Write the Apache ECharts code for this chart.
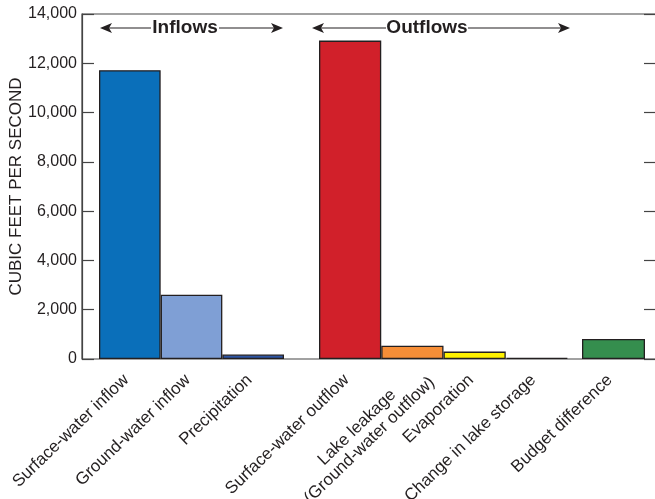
<!DOCTYPE html>
<html>
<head>
<meta charset="utf-8">
<script src="https://cdn.jsdelivr.net/npm/echarts@6/dist/echarts.min.js"></script>
<style>
  html, body { margin: 0; padding: 0; background: #fff; }
  #main { width: 655px; height: 499px; }
</style>
</head>
<body>
<div id="main"></div>
<script>
// data (cubic feet per second)
var inflowNames = ['Surface-water inflow', 'Ground-water inflow', 'Precipitation'];
var inflowValues = [11720, 2610, 180];
var outflowNames = ['Surface-water outflow', 'Lake leakage\n(Ground-water outflow)', 'Evaporation', 'Change in lake storage'];
var outflowValues = [12920, 540, 300, 50];
var budgetNames = ['Budget difference'];
var budgetValues = [810];
var yTicks = [0, 2000, 4000, 6000, 8000, 10000, 12000, 14000];

var inflowColors = ['#0a6fba', '#7f9fd5', '#2d55a4'];
var outflowColors = ['#d1202a', '#f68e37', '#fff200', '#231f20'];
var budgetColors = ['#358e4e'];

var FONT = '"Liberation Sans Narrow", "Liberation Sans", sans-serif';
var TOP = 14, BOTTOM = 140;

function colored(values, colors) {
  return values.map(function (v, i) {
    return { value: v, itemStyle: { color: colors[i] } };
  });
}

function subX(gridIndex, names) {
  return {
    type: 'category', gridIndex: gridIndex,
    data: names.map(function (n) {
      // the two-line label sits a bit lower and further right in the original
      if (n.indexOf('\n') >= 0) return { value: n, textStyle: { padding: [18, -10, 0, 0] } };
      return n;
    }),
    axisLine: { show: false }, axisTick: { show: false },
    axisLabel: {
      rotate: 44, margin: 15, interval: 0, padding: [0, 5, 0, 0],
      fontFamily: FONT, fontSize: 17, color: '#231f20', lineHeight: 18, align: 'right',
      // lines of a two-line label are centred on each other
      formatter: function (v) {
        return v.split('\n').map(function (s) { return '{c|' + s + '}'; }).join('\n');
      },
      rich: { c: { align: 'center', fontFamily: FONT, fontSize: 17, color: '#231f20', lineHeight: 18 } }
    }
  };
}

function subY(gridIndex) {
  return {
    type: 'value', gridIndex: gridIndex, show: false,
    min: yTicks[0], max: yTicks[yTicks.length - 1], interval: 2000
  };
}

function barSeries(idx, values, colors) {
  return {
    type: 'bar', xAxisIndex: idx, yAxisIndex: idx + 1,
    barWidth: '100%', barGap: 0,
    data: colored(values, colors),
    itemStyle: { borderColor: '#231f20', borderWidth: 1.3 },
    silent: true
  };
}

// arrows above the groups
function arrow(x1, x2, y, label, cx, halfGap) {
  var head = 9;
  return [
    { type: 'line', shape: { x1: x1 + 4, y1: y, x2: cx - halfGap, y2: y }, style: { stroke: '#231f20', lineWidth: 1.2 } },
    { type: 'line', shape: { x1: cx + halfGap, y1: y, x2: x2 - 4, y2: y }, style: { stroke: '#231f20', lineWidth: 1.2 } },
    { type: 'polygon', shape: { points: [[x1, y], [x1 + head + 3, y - 5], [x1 + head, y], [x1 + head + 3, y + 5]] }, style: { fill: '#231f20' } },
    { type: 'polygon', shape: { points: [[x2, y], [x2 - head - 3, y - 5], [x2 - head, y], [x2 - head - 3, y + 5]] }, style: { fill: '#231f20' } },
    { type: 'text', x: cx, y: y, style: { text: label, fill: '#231f20', font: 'bold 19px "Liberation Sans", Arial, sans-serif', align: 'center', verticalAlign: 'middle' } }
  ];
}

var chart = echarts.init(document.getElementById('main'));

function frame(left, width) {
  var g = { top: TOP, bottom: BOTTOM, outerBoundsMode: 'none', containLabel: false };
  g.left = left;
  if (width != null) g.width = width; else g.right = -1;
  return g;
}

var gridMain = frame(82);
gridMain.show = true;
gridMain.borderColor = '#444';
gridMain.borderWidth = 1.2;

var option = {
  animation: false,
  backgroundColor: '#fff',
  grid: [gridMain, frame(99, 185), frame(319, 249), frame(582, 63)],
  xAxis: [
    { type: 'value', gridIndex: 0, show: false, min: 0, max: 1 },
    subX(1, inflowNames),
    subX(2, outflowNames),
    subX(3, budgetNames)
  ],
  yAxis: [
    {
      type: 'value', gridIndex: 0, position: 'left',
      min: yTicks[0], max: yTicks[yTicks.length - 1], interval: 2000,
      name: 'CUBIC FEET PER SECOND', nameLocation: 'middle', nameGap: 57, nameMoveOverlap: false,
      nameTextStyle: { fontFamily: FONT, fontSize: 17, color: '#231f20' },
      axisLine: { show: true, lineStyle: { color: '#444', width: 1.2 } },
      axisTick: { show: true, inside: true, length: 12, lineStyle: { color: '#444', width: 1.2 } },
      axisLabel: {
        margin: 5, fontFamily: FONT, fontSize: 16, color: '#231f20',
        formatter: function (v) { return v.toLocaleString('en-US'); }
      },
      splitLine: { show: false }
    },
    {
      type: 'value', gridIndex: 0, position: 'right',
      min: yTicks[0], max: yTicks[yTicks.length - 1], interval: 2000,
      axisLine: { show: false },
      axisTick: { show: true, inside: true, length: 12, lineStyle: { color: '#444', width: 1.2 } },
      axisLabel: { show: false },
      splitLine: { show: false }
    },
    subY(1), subY(2), subY(3)
  ],
  series: [
    barSeries(1, inflowValues, inflowColors),
    barSeries(2, outflowValues, outflowColors),
    barSeries(3, budgetValues, budgetColors)
  ],
  graphic: arrow(100, 283, 28, 'Inflows', 185, 34).concat(arrow(312, 570, 28, 'Outflows', 427, 41))
};

chart.setOption(option);
</script>
</body>
</html>
